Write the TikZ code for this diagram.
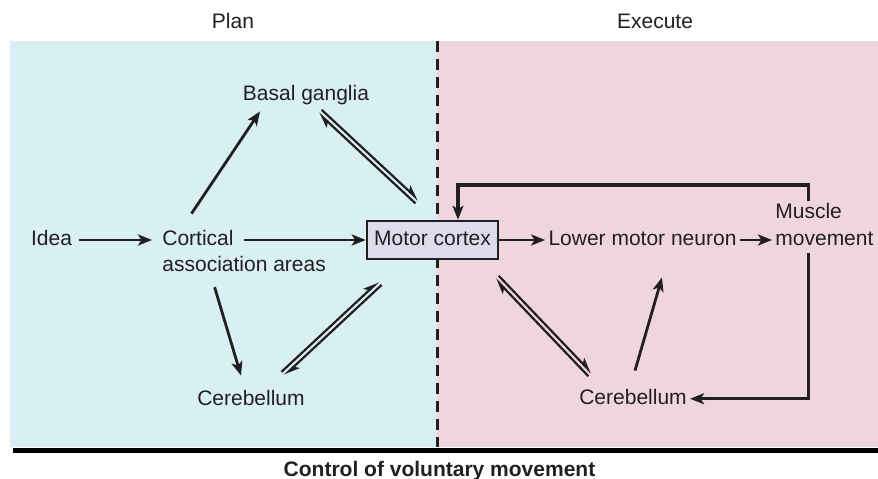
\documentclass[tikz,border=0pt]{standalone}
\usepackage{fontspec}
\setmainfont{Liberation Sans}
\usetikzlibrary{arrows.meta, calc}
\definecolor{cplan}{HTML}{D8EFF4}
\definecolor{cexec}{HTML}{EFD5DC}
\definecolor{cbox}{HTML}{DCDCEE}
\definecolor{cink}{HTML}{231F20}
\tikzset{
  every picture/.style={font=\fontsize{21}{24}\selectfont, line width=2.8pt},
  txt/.style={text=cink, inner sep=2pt, text height=15pt, text depth=4.5pt},
  box/.style={txt, draw=cink, fill=cbox, line width=2.6pt, minimum width=131pt, minimum height=38pt},
  arrow/.style={-{Stealth[length=14pt, width=11pt, inset=3.5pt]}, draw=cink, line width=2.8pt},
  half/.style={-{Stealth[left, length=13pt, width=10pt, inset=3pt]}, draw=cink, line width=2.2pt},
  loopline/.style={arrow, line width=3.2pt},
  title/.style={txt, font=\fontsize{21}{24}\selectfont\bfseries},
}
% two parallel lines, one head at each end
\newcommand\twoway[2]{%
  \draw[half] ($(#1)!2.3pt!90:(#2)$) -- ($(#2)!2.3pt!-90:(#1)$);
  \draw[half] ($(#2)!2.3pt!90:(#1)$) -- ($(#1)!2.3pt!-90:(#2)$);
}

\begin{document}
\begin{tikzpicture}[x=1pt, y=-1pt]
  \useasboundingbox (0,0) rectangle (878,479);
  \fill[cplan] (10,41) rectangle (437,447);
  \fill[cexec] (437,41) rectangle (878,447);
  \fill[black] (13,448) rectangle (878,452.5);
  \draw[cink, line width=3pt, dash pattern=on 11pt off 7pt] (437,41) -- (437,447);

  \node[txt] (plan) at (233,22.75) {Plan};
  \node[txt] (exec) at (655,22.75) {Execute};
  \node[txt] (idea) at (51.5,240) {Idea};
  \node[txt, anchor=west] (cort) at (159,240) {Cortical};
  \node[txt, anchor=north west] (assoc) at (cort.south west) {association areas};
  \node[box] (mc) at (432.5,240) {Motor cortex};
  \node[txt] (lmn) at (642.5,240) {Lower motor neuron};
  \node[txt, anchor=west] (mov) at (772,240) {movement};
  \node[txt, anchor=south west] (mus) at (mov.north west) {Muscle};
  \node[txt] (bg) at (306,94.75) {Basal ganglia};
  \node[txt] (cbl) at (251,399.75) {Cerebellum};
  \node[txt] (cbr) at (633,398.75) {Cerebellum};
  \node[title] (ttl) at (439.5,470.75) {Control of voluntary movement};

  \draw[arrow, shorten <=4pt, shorten >=7pt] (idea) -- (cort);
  \draw[arrow, shorten <=7pt] (cort) -- (mc);
  \foreach \a/\b in {mc/lmn, lmn/mov} \draw[arrow] (\a) -- (\b);
  \draw[arrow] ($(cort.north)+(-6.5,-13.25)$) -- ($(bg.south)+(-46,3.5)$);
  \draw[arrow] ($(assoc.south)+(-29.5,7.75)$) -- ($(cbl.north)+(-10,-11)$);
  \draw[arrow] ($(cbr.north)+(2,-15)$) -- ($(lmn.south)+(19.5,24.25)$);

  \coordinate (bg-mc) at ($(bg.south)+(14,3.5)$);
  \coordinate (mc-bg) at ($(mc.north)+(-15.5,-18)$);
  \coordinate (cbl-mc) at ($(cbl.north)+(32,-13)$);
  \coordinate (mc-cbl) at ($(mc.south)+(-52.5,23)$);
  \coordinate (mc-cbr) at ($(mc.south)+(64.5,17)$);
  \coordinate (cbr-mc) at ($(cbr.north)+(-43,-11)$);
  \twoway{bg-mc}{mc-bg}
  \twoway{cbl-mc}{mc-cbl}
  \twoway{mc-cbr}{cbr-mc}

  \coordinate (fb) at (458,185);
  \draw[loopline] (mus.north) |- (fb) -- (fb |- mc.north);
  \draw[loopline] (mus.north |- mov.south) |- (cbr.east);
\end{tikzpicture}
\end{document}
